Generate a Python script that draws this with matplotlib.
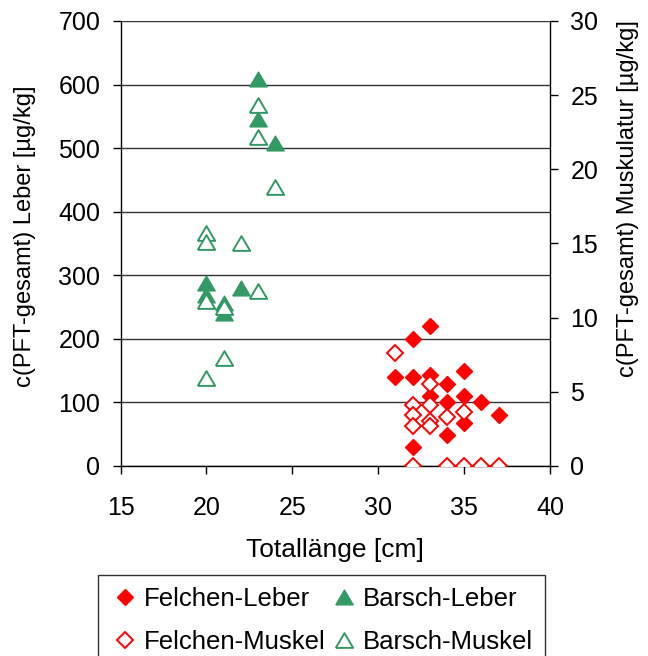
import numpy as np
import matplotlib
matplotlib.use("Agg")
import matplotlib.pyplot as plt

plt.rcParams['font.family'] = ['Liberation Sans', 'DejaVu Sans']

# Felchen (whitefish) liver, left axis [ug/kg]
felchen_leber_x = [33, 32, 31, 32, 33, 35, 34, 33, 34, 35, 36, 37, 35, 34, 32]
felchen_leber_y = [220, 199, 140, 140, 143, 149, 128, 110, 101, 110, 101, 80, 68, 49, 30]

# Barsch (perch) liver, left axis
barsch_leber_x = [20, 20, 21, 21, 22, 23, 23, 24]
barsch_leber_y = [288, 268, 256, 240, 280, 608, 545, 508]

# Felchen muscle, right axis
felchen_muskel_x = [31, 32, 32, 32, 32, 33, 33, 33, 33, 34, 34, 35, 35, 36, 37]
felchen_muskel_y = [7.6, 4.1, 3.4, 2.7, 0, 5.5, 4.1, 3.0, 2.7, 3.3, 0, 3.6, 0, 0, 0]

# Barsch muscle, right axis
barsch_muskel_x = [20, 20, 20, 20, 21, 21, 22, 23, 23, 23, 24]
barsch_muskel_y = [15.7, 15.1, 11.1, 5.9, 10.7, 7.3, 15.0, 24.3, 22.2, 11.8, 18.8]

red = '#FF0000'
green = '#339966'
tri = [(-1, -0.85), (1, -0.85), (0, 0.85), (-1, -0.85)]  # closed triangle

fig = plt.figure(figsize=(6.48, 6.56), dpi=100)
ax = fig.add_axes([0.186, 0.290, 0.663, 0.678])
ax2 = ax.twinx()

h1, = ax.plot(felchen_leber_x, felchen_leber_y, ls='none', marker='D', ms=8,
              color=red, mec=red, label='Felchen-Leber')
h2, = ax.plot(barsch_leber_x, barsch_leber_y, ls='none', marker=tri, ms=12.5,
              color=green, mec=green, label='Barsch-Leber')
h3, = ax2.plot(felchen_muskel_x, felchen_muskel_y, ls='none', marker='D', ms=8,
               mfc='white', mec=red, mew=1.4, label='Felchen-Muskel')
h4, = ax2.plot(barsch_muskel_x, barsch_muskel_y, ls='none', marker=tri, ms=12.5,
               mfc='white', mec=green, mew=1.4, label='Barsch-Muskel')

ax.set_xlim(15, 40)
ax.set_ylim(0, 700)
ax2.set_ylim(0, 30)
ax.set_xticks([15, 20, 25, 30, 35, 40])
ax.set_yticks(np.arange(0, 701, 100))
ax2.set_yticks([0, 5, 10, 15, 20, 25, 30])

ax.yaxis.grid(True, color='#333333', lw=1)
ax.set_axisbelow(True)

for a in (ax, ax2):
    a.spines['top'].set_visible(False)
    for s in a.spines.values():
        s.set_linewidth(1)
ax.spines['right'].set_visible(False)
ax2.spines['left'].set_visible(False)
ax2.spines['bottom'].set_visible(False)

ax.tick_params(axis='y', direction='out', length=6, width=1, pad=8.5, labelsize=18)
ax.tick_params(axis='x', direction='out', length=6, width=1, pad=16, labelsize=18)
ax2.tick_params(axis='y', direction='out', length=6, width=1, pad=8.5, labelsize=18)

ax.set_xlabel('Totallänge [cm]', fontsize=19, labelpad=13)
ax.set_ylabel('c(PFT-gesamt) Leber [µg/kg]', fontsize=17)
ax2.set_ylabel('c(PFT-gesamt) Muskulatur [µg/kg]', fontsize=17)
ax.yaxis.set_label_coords(-0.197, 0.515)
ax2.yaxis.set_label_coords(1.155, 0.6)

leg = fig.legend(handles=[h1, h3, h2, h4], ncol=2, loc='upper left',
                 bbox_to_anchor=(98 / 648, 1 - 575 / 656), fontsize=18.5,
                 frameon=True, fancybox=False, edgecolor='black',
                 handletextpad=0.15, columnspacing=0.1, handlelength=1.2,
                 borderpad=0.45, labelspacing=0.75, borderaxespad=0)
leg.get_frame().set_linewidth(1)

fig.savefig('out.png', dpi=100)
